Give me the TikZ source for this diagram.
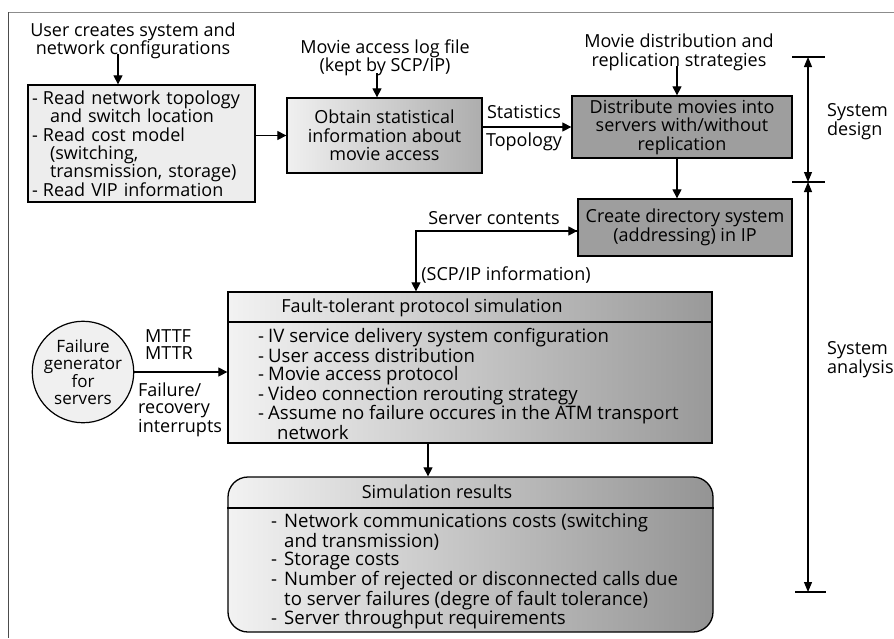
\documentclass[tikz,border=0pt]{standalone}
\usepackage{fontspec}
\setmainfont{Open Sans}
\usetikzlibrary{arrows.meta}
% list helpers: a dash item and an indented continuation line
\newcommand{\dashitem}[2][11pt]{\makebox[#1][l]{-}#2}
\newcommand{\contline}[2][18pt]{\hspace*{#1}#2}
\begin{document}
\begin{tikzpicture}[x=1pt,y=-1pt,
  font=\fontsize{18}{18.4}\selectfont,
  arr/.style={-{Triangle[width=9pt,length=9pt]}, line width=1.2pt},
  dimarr/.style={{Triangle[width=8pt,length=10pt]}-{Triangle[width=8pt,length=10pt]}, line width=1.1pt},
  panel/.style={draw, line width=1.3pt, inner sep=0pt},
  lbl/.style={inner sep=0pt, align=center},
  listtext/.style={lbl, align=left, anchor=west, font=\fontsize{18.6}{18.4}\selectfont},
  tick/.style={line width=1.1pt},
]
\useasboundingbox (0,0) rectangle (894,638);
\fill[white] (0,0) rectangle (894,638);

% page frame lines
\draw[black!45, line width=0.6pt] (8,12) -- (894,12);
\draw[black!70, line width=0.9pt] (8,12) -- (8,638);

% ---------- system design part ----------
\node[lbl] (usr) at (133,41) {User creates system and\\network configurations};
\node[panel, fill=black!7, minimum width=227pt, minimum height=117pt,
      text width=219pt, align=left] (cfg) at (141.5,143.5)
  {\dashitem{Read network topology}\\
   \contline{and switch location}\\
   \dashitem{Read cost model}\\
   \contline{(switching,}\\
   \contline{transmission, storage)}\\
   \dashitem{Read VIP information}};

\node[lbl] (log) at (385,58) {Movie access log file\\(kept by SCP/IP)};
\node[panel, left color=black!6, right color=black!32, minimum width=195pt,
      minimum height=75pt, align=center] (obtain) at (384.5,135.5)
  {Obtain statistical\\information about\\movie access};

\node[lbl] (strat) at (679,52.5) {Movie distribution and\\replication strategies};
\node[panel, fill=black!38, minimum width=220pt, minimum height=62pt,
      align=center] (dist) at (682,127)
  {Distribute movies into\\servers with/without\\replication};

\node[panel, fill=black!38, minimum width=214pt, minimum height=57pt,
      align=center] (dir) at (685,227.5)
  {Create directory system\\(addressing) in IP};

\node[lbl] (stat) at (524,112) {Statistics};
\node[lbl] (topo) at (524,142) {Topology};
\node[lbl] (srv) at (494,218) {Server contents};
\node[lbl] (scp) at (506,275) {(SCP/IP information)};

% arrow columns
\coordinate (xusr) at (118,0);
\coordinate (xlog) at (377,0);
\coordinate (xstr) at (677,0);
\coordinate (xres) at (428,0);
\coordinate (jsrv) at (416,231);

\draw[arr] ([yshift=5pt]usr.south -| xusr) -- (cfg.north -| xusr);
\draw[arr] ([yshift=3pt]log.south -| xlog) -- (obtain.north -| xlog);
\draw[arr] ([yshift=5pt]strat.south -| xstr) -- (dist.north -| xstr);
\draw[arr] (cfg.east |- obtain.west) -- (obtain.west);
\draw[arr] (obtain.east |- dist.west) -- (dist.west);
\draw[arr] (dist.south -| xstr) -- (dir.north -| xstr);

% ---------- system analysis part ----------
\node[panel, left color=black!5, right color=black!40, minimum width=484pt,
      minimum height=151pt] (fault) at (470,367.5) {};
\coordinate (sepf) at (0,322);
\draw[line width=1.1pt] (fault.west |- sepf) -- (fault.east |- sepf);
\node[lbl] (ftitle) at (422,308) {Fault-tolerant protocol simulation};
\node[listtext] (fitems) at (258,384)
  {\dashitem[10pt]{IV service delivery system configuration}\\
   \dashitem[10pt]{User access distribution}\\
   \dashitem[10pt]{Movie access protocol}\\
   \dashitem[10pt]{Video connection rerouting strategy}\\
   \dashitem[10pt]{Assume no failure occures in the ATM transport}\\
   \contline[19pt]{network}};

\draw[arr] (dir.west |- jsrv) -- (jsrv) -- (fault.north -| jsrv);
\draw[arr] (jsrv) -- (dir.west |- jsrv);

\node[draw, circle, line width=1.2pt, fill=black!6, minimum size=100pt,
      inner sep=0pt, align=center, font=\fontsize{17}{17}\selectfont]
  (gen) at (83,372) {Failure\\generator\\for\\servers};
\node[lbl, align=left, anchor=west, font=\fontsize{18}{17}\selectfont]
  (mt) at (145,345) {MTTF\\MTTR};
\node[lbl, align=left, anchor=west, font=\fontsize{18}{17}\selectfont]
  (intr) at (138,410) {Failure/\\recovery\\interrupts};
\draw[arr] (gen.east) -- (gen.east -| fault.west);

\node[panel, rounded corners=20pt, left color=black!5, right color=black!42,
      minimum width=485pt, minimum height=155pt] (sim) at (470.5,554.5) {};
\coordinate (seps) at (0,508);
\draw[line width=1.1pt] (sim.west |- seps) -- (sim.east |- seps);
\node[lbl] (stitle) at (437,492) {Simulation results};
\node[listtext] (sitems) at (271,571.5)
  {\dashitem[13pt]{Network communications costs (switching}\\
   \contline[13pt]{and transmission)}\\
   \dashitem[13pt]{Storage costs}\\
   \dashitem[13pt]{Number of rejected or disconnected calls due}\\
   \contline[13pt]{to server failures (degre of fault tolerance)}\\
   \dashitem[13pt]{Server throughput requirements}};

\draw[arr] (fault.south -| xres) -- (sim.north -| xres);

% ---------- phase dimension lines ----------
\coordinate (dtop) at (808,57);
\coordinate (dmid) at (808,182);
\coordinate (dbot) at (808,592);
\draw[tick] ([xshift=-16pt]dtop) -- ([xshift=17pt]dtop);
\draw[tick] ([xshift=-16pt]dmid) -- ([xshift=17pt]dmid);
\draw[tick] ([xshift=-13pt]dbot) -- ([xshift=18pt]dbot);
\draw[dimarr] (dtop) -- (dmid);
\draw[dimarr] (dmid) -- (dbot);
\node[lbl, align=left, anchor=west, font=\fontsize{18}{17}\selectfont]
  (sdes) at (827,121.5) {System\\design};
\node[lbl, align=left, anchor=west, font=\fontsize{18}{17}\selectfont]
  (sana) at (827,360) {System\\analysis};
\end{tikzpicture}
\end{document}
